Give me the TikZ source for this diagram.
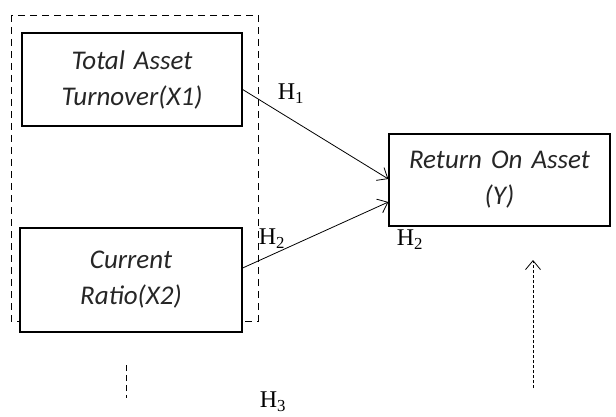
\documentclass[tikz,border=0pt]{standalone}
\usepackage{fontspec}
\setmainfont{Liberation Serif}
\newfontfamily\boxfont{Carlito}
\usetikzlibrary{arrows.meta}
\usetikzlibrary{backgrounds}

\tikzset{
  varbox/.style={draw,line width=1.3pt,fill=white,inner sep=0pt,
    text width=210pt,align=center,font=\boxfont\itshape\fontsize{27}{36}\selectfont,
    text=black!85},
  hlabel/.style={font=\fontsize{24}{26}\selectfont,inner sep=0pt},
  barb/.style={-{Straight Barb[length=9pt,width=15pt]}}
}

\begin{document}
\begin{tikzpicture}[x=1pt,y=-1pt]
\useasboundingbox (0,0) rectangle (616,417);
% group of independent variables
\draw[dashed,line width=0.8pt,dash pattern=on 7pt off 5pt] (11,15) rectangle (258,321);
\node[varbox,minimum width=220pt,minimum height=93pt] (tat) at (132,79.5) {Total Asset\\Turnover(X1)};
\node[varbox,minimum width=222pt,minimum height=104pt] (cr) at (131,280) {Current\\Ratio(X2)};
\node[varbox,minimum width=221pt,minimum height=92pt] (roa) at (499.5,180) {Return On Asset\\(Y)};
\draw[barb,line width=0.8pt] ([yshift=-10pt]tat.east) -- ([yshift=1pt]roa.west);
\draw[barb,line width=0.8pt] ([yshift=12pt]cr.east) -- ([yshift=-22pt]roa.west);
\node[hlabel] (h1) at (291,94) {H\textsubscript{1}};
\node[hlabel] (h2a) at (272,239) {H\textsubscript{2}};
\node[hlabel] (h2b) at (410,240) {H\textsubscript{2}};
\node[hlabel] (h3) at (273,402) {H\textsubscript{3}};
% simultaneous effect
\coordinate (s1) at (126,365);
\coordinate (s2) at (126,398);
\draw[line width=0.8pt,dash pattern=on 6pt off 4pt] (s1) -- (s2);
\coordinate (t1) at (533,388);
\coordinate (t2) at (533,260);
\draw[barb,line width=0.8pt,dash pattern=on 3pt off 2pt] (t1) -- (t2);
\end{tikzpicture}
\end{document}
